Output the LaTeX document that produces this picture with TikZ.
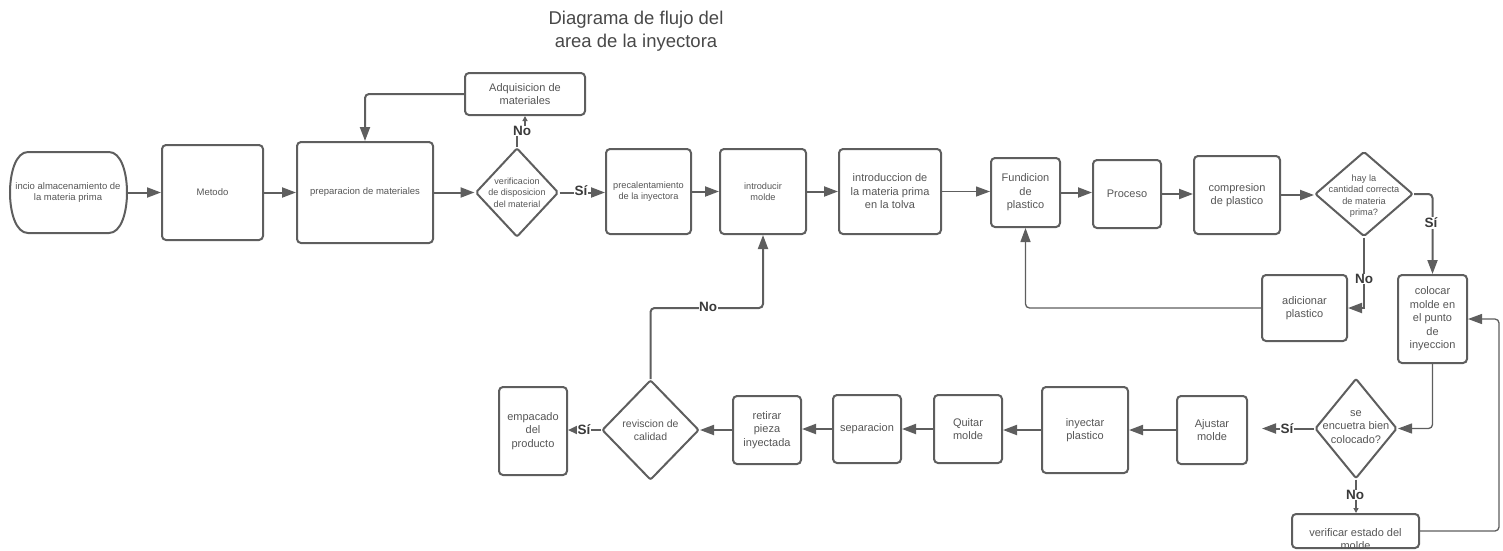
\documentclass[tikz,border=0pt]{standalone}
\usepackage{fontspec}
\setmainfont{Liberation Sans}
\usetikzlibrary{shapes.geometric,arrows.meta}
\definecolor{ln}{HTML}{5E5E5E}
\definecolor{tx}{HTML}{555555}
\definecolor{lb}{HTML}{3A3A3A}
\tikzset{
 box/.style={draw=ln, line width=2pt, rounded corners=4pt, inner sep=2pt, align=center, text=tx},
 dia/.style={draw=ln, line width=2pt, diamond, inner sep=0pt, rounded corners=2pt},
 txt/.style={align=center, text=tx, inner sep=0pt},
 arr/.style={draw=ln, line width=2pt, -{Triangle[length=14pt,width=10pt]}},
 arrthin/.style={draw=ln, line width=1.3pt, -{Triangle[length=14pt,width=10pt]}},
 arrsmall/.style={draw=ln, line width=2pt, -{Triangle[length=5pt,width=5pt]}},
 arrmid/.style={draw=ln, line width=2pt, -{Triangle[length=9pt,width=8pt]}},
 lab/.style={font=\fontsize{13.5}{14}\selectfont\bfseries, text=lb, fill=white, inner sep=0.5pt},
 fa/.style={font=\fontsize{9.5}{11.6}\selectfont},
 fb/.style={font=\fontsize{9.2}{11.4}\selectfont},
 fc/.style={font=\fontsize{11}{13.5}\selectfont},
}
\begin{document}
\begin{tikzpicture}[x=1pt,y=-1pt]
\useasboundingbox (0,0) rectangle (1503,550);
% title
\node[font=\fontsize{18.5}{23.5}\selectfont, text=tx!85!black, align=center] (title) at (636,31) {Diagrama de flujo del\\area de la inyectora};
% start
\draw[draw=ln, line width=2pt] (28,152) -- (109,152) .. controls (133,152) and (133,233) .. (109,233) -- (28,233) .. controls (4,233) and (4,152) .. (28,152) -- cycle;
\node[txt, fa, minimum width=120pt, minimum height=81pt] (start) at (68,192.5) {incio almacenamiento de\\la materia prima};
% top row
\node[box, fa, minimum width=101pt, minimum height=95pt] (metodo) at (212.5,192.5) {Metodo};
\node[box, fa, minimum width=136pt, minimum height=101pt] (prep) at (365,192.5) {preparacion de materiales};
\node[box, fc, minimum width=120pt, minimum height=42pt] (adq) at (525,94) {Adquisicion de\\materiales};
\node[dia, minimum width=83pt, minimum height=89pt] (d1) at (517,192.5) {};
\node[txt, font=\fontsize{9}{11.3}\selectfont] (d1t) at (517,192.5) {verificacion\\de disposicion\\del material};
\node[box, fb, minimum width=85pt, minimum height=85pt] (pre) at (648.5,191.5) {precalentamiento\\de la inyectora};
\node[box, fb, minimum width=86pt, minimum height=85pt] (intro) at (763,191.5) {introducir\\molde};
\node[box, fc, minimum width=102pt, minimum height=85pt] (tolva) at (890,191.5) {introduccion de\\la materia prima\\en la tolva};
\node[box, fc, minimum width=69pt, minimum height=69pt] (fund) at (1025.5,192.5) {Fundicion\\de\\plastico};
\node[box, fc, minimum width=68pt, minimum height=68pt] (proc) at (1127,194) {Proceso};
\node[box, fc, minimum width=86pt, minimum height=78pt] (comp) at (1237,195) {compresion\\de plastico};
\node[dia, minimum width=98pt, minimum height=85pt] (d2) at (1364,194) {};
\node[txt, fb] (d2t) at (1364,196) {hay la\\cantidad correcta\\de materia\\prima?};
\node[box, fc, minimum width=85pt, minimum height=66pt] (adic) at (1304.5,308) {adicionar\\plastico};
\node[box, fc, minimum width=69pt, minimum height=88pt] (col) at (1432.5,319) {colocar\\molde en\\el punto\\de\\inyeccion};
% bottom row
\node[dia, minimum width=82pt, minimum height=100pt] (d3) at (1356,428.5) {};
\node[txt, fc] (d3t) at (1356,427) {se\\encuetra bien\\colocado?};
\node[box, minimum width=127pt, minimum height=34pt] (ver) at (1355.5,531) {};
\node[txt, fc] (vert) at (1355.5,539) {verificar estado del\\molde};
\node[box, fc, minimum width=70pt, minimum height=68pt] (ajus) at (1212,430) {Ajustar\\molde};
\node[box, fc, minimum width=86pt, minimum height=86pt] (iny) at (1085,430) {inyectar\\plastico};
\node[box, fc, minimum width=68pt, minimum height=68pt] (quit) at (968,429) {Quitar\\molde};
\node[box, fc, minimum width=68pt, minimum height=68pt] (sep) at (867,429) {separacion};
\node[box, fc, minimum width=68pt, minimum height=68pt] (ret) at (767,430) {retirar\\pieza\\inyectada};
\node[dia, minimum width=97pt, minimum height=100pt] (d4) at (650.5,430) {};
\node[txt, font=\fontsize{10.5}{13}\selectfont] (d4t) at (650.5,430) {reviscion de\\calidad};
\node[box, fc, minimum width=68pt, minimum height=88pt] (emp) at (533,431) {empacado\\del\\producto};
% connectors
\draw[arr] (start.east) -- (start.east -| metodo.west);
\draw[arr] (metodo.east) -- (metodo.east -| prep.west);
\draw[arr] (prep.east) -- (d1.west);
\coordinate (nd1) at (521,131);
\draw[arrsmall] (d1.north) |- (nd1) -| (adq.south);
\node[lab] at (522,131) {No};
\draw[arr, rounded corners=4pt] (adq.west) -| (prep.north);
\draw[arr] (d1.east) -- (d1.east -| pre.west);
\node[lab] at (581,191) {Sí};
\draw[arr] (pre.east) -- (intro.west);
\draw[arr] (intro.east) -- (tolva.west);
\draw[arrthin] (tolva.east) -- (tolva.east -| fund.west);
\draw[arr] (fund.east) -- (fund.east -| proc.west);
\draw[arr] (proc.east) -- (proc.east -| comp.west);
\draw[arr] (comp.east) -- (comp.east -| d2.west);
\draw[arr, rounded corners=4pt] (d2.east) -| (col.north);
\node[lab] at (1431,223) {Sí};
\draw[arr] (d2.south) |- (adic.east);
\node[lab] at (1364,279) {No};
\draw[arrthin, rounded corners=4pt] (adic.west) -| (fund.south);
\draw[arrthin, rounded corners=4pt] (col.south) |- (d3.east);
\coordinate (s3) at (1262,428.5);
\draw[arr] (d3.west) -- (s3);
\node[lab] at (1287,428.5) {Sí};
\draw[arrsmall] (d3.south) -- (d3.south |- ver.north);
\node[lab] at (1355,495) {No};
\coordinate (rr) at (1499,425);
\draw[arrthin, rounded corners=4pt] (ver.east) -| (rr) |- (col.east);
\draw[arr] (ajus.west) -- (ajus.west -| iny.east);
\draw[arr] (iny.west) -- (iny.west -| quit.east);
\draw[arr] (quit.west) -- (sep.east);
\draw[arr] (sep.west) -- (sep.west -| ret.east);
\draw[arr] (ret.west) -- (d4.east);
\draw[arrmid] (d4.west) -- (d4.west -| emp.east);
\node[lab] at (584,430) {Sí};
\coordinate (nob) at (706,308);
\draw[arr, rounded corners=4pt] (d4.north) |- (nob) -| (intro.south);
\node[lab] at (708,307) {No};
\end{tikzpicture}
\end{document}
